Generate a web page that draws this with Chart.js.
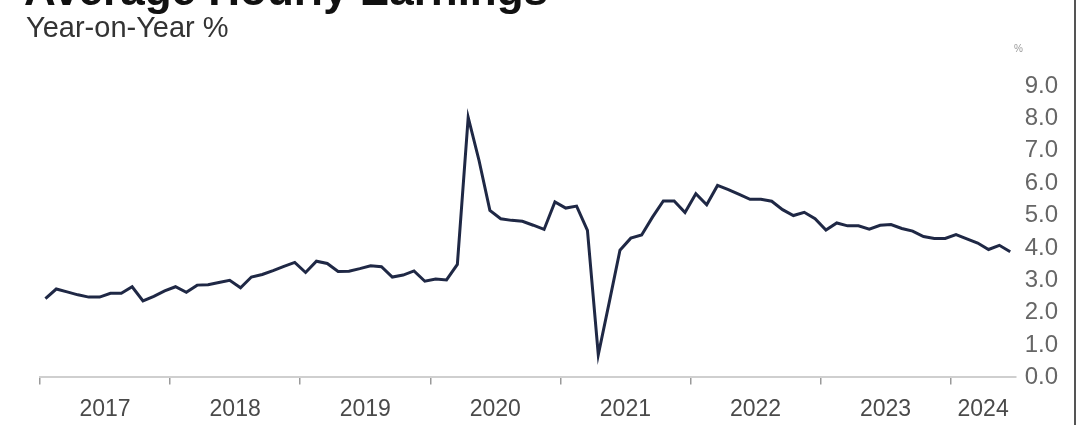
<!DOCTYPE html>
<html>
<head>
<meta charset="utf-8">
<script src="https://cdn.jsdelivr.net/npm/chart.js@4.4.1/dist/chart.umd.min.js"></script>
<style>
  html, body { margin: 0; padding: 0; background: #fff; }
  #wrap { position: relative; width: 1077px; height: 425px; overflow: hidden; font-family: "Liberation Sans", Arial, sans-serif; }
  #plot { position: absolute; left: 0; top: 0; width: 1077px; height: 434px; }
  .title { position: absolute; left: 24px; top: -32px; font-size: 44px; line-height: 44px; font-weight: bold; color: #111; white-space: nowrap; }
  .subtitle { position: absolute; left: 26px; top: 13px; font-size: 29px; line-height: 29px; color: #333; white-space: nowrap; }
  .unit { position: absolute; left: 1014px; top: 44px; font-size: 10px; line-height: 10px; color: #999; }
  .edge { position: absolute; right: 1px; top: 0; bottom: 0; border-right: 2px solid #555; }
</style>
</head>
<body>
<div id="wrap">
  <div id="plot"><canvas id="aheChart"></canvas></div>
  <div class="title">Average Hourly Earnings</div>
  <div class="subtitle">Year-on-Year %</div>
  <div class="unit">%</div>
  <div class="edge"></div>
</div>
<script>
// Jahre auf der x-Achse, Daten monatlich Jan 2017 - Jun 2024
const years = ['2017', '2018', '2019', '2020', '2021', '2022', '2023', '2024'];
const monthsInLastYear = 6;

// Average hourly earnings, YoY %
const aheYoY = [
  2.43, 2.73, 2.64, 2.55, 2.48, 2.48, 2.60, 2.60, 2.80, 2.36, 2.50, 2.67,
  2.80, 2.63, 2.85, 2.86, 2.93, 3.00, 2.77, 3.10, 3.18, 3.30, 3.43, 3.55,
  3.24, 3.59, 3.52, 3.27, 3.28, 3.36, 3.45, 3.42, 3.10, 3.16, 3.29, 2.97,
  3.04, 3.01, 3.49, 8.03, 6.70, 5.16, 4.90, 4.85, 4.82, 4.70, 4.57, 5.42,
  5.23, 5.29, 4.54, 0.70, 2.30, 3.93, 4.30, 4.40, 4.95, 5.45, 5.45, 5.09,
  5.67, 5.33, 5.93, 5.80, 5.65, 5.50, 5.50, 5.44, 5.18, 5.00, 5.10, 4.90,
  4.55, 4.77, 4.68, 4.68, 4.58, 4.70, 4.72, 4.60, 4.52, 4.35, 4.29, 4.29,
  4.41, 4.28, 4.15, 3.95, 4.08, 3.88
];

const yTicks = [0, 1, 2, 3, 4, 5, 6, 7, 8, 9];

// Monatslabels bauen
const months = [];
years.forEach((y, k) => {
  const n = k === years.length - 1 ? monthsInLastYear : 12;
  for (let m = 1; m <= n; m++) months.push(y + '-' + String(m).padStart(2, '0'));
});

// Jahresanfang (Tickstrich) und Jahresmitte (Label) als Index
const yearStart = years.map(y => months.indexOf(y + '-01') - 0.5);
const yearMid = years.map(y => {
  const idx = months.map((m, i) => m.startsWith(y) ? i : -1).filter(i => i >= 0);
  return (idx[0] + idx[idx.length - 1]) / 2;
});

const lo = -0.5, hi = months.length - 0.5;

const ctx = document.getElementById('aheChart').getContext('2d');
const chart = new Chart(ctx, {
  type: 'line',
  data: {
    labels: months,
    datasets: [{
      label: 'Average Hourly Earnings',
      data: aheYoY,
      borderColor: '#1f2845',
      borderWidth: 3,
      pointRadius: 0,
      tension: 0,
      xAxisID: 'x',
      yAxisID: 'y'
    }]
  },
  options: {
    responsive: true,
    maintainAspectRatio: false,
    animation: false,
    layout: { padding: { left: 40, right: 10, top: 86, bottom: 0 } },
    plugins: { legend: { display: false }, tooltip: { enabled: false } },
    scales: {
      x: { type: 'category', offset: true, display: false },
      xTicks: {
        type: 'linear', position: 'bottom', min: lo, max: hi, weight: 0,
        afterBuildTicks: s => { s.ticks = yearStart.map(v => ({ value: v })); },
        grid: { drawOnChartArea: false, drawTicks: true, tickLength: 7, color: '#9a9a9a', lineWidth: 1.5 },
        border: { display: true, color: '#cfcfcf', width: 2 },
        ticks: { display: false }
      },
      xYears: {
        type: 'linear', position: 'bottom', min: lo, max: hi, weight: 1,
        afterBuildTicks: s => { s.ticks = yearMid.map(v => ({ value: v })); },
        grid: { display: false, drawTicks: false },
        border: { display: false },
        ticks: {
          maxRotation: 0, autoSkip: false, padding: 11,
          color: '#4a4a4a',
          font: { family: 'Liberation Sans, Arial, sans-serif', size: 23 },
          callback: (v, i) => years[i]
        }
      },
      y: {
        position: 'right', min: 0, max: 9,
        afterBuildTicks: s => { s.ticks = yTicks.map(v => ({ value: v })); },
        grid: { display: false, drawTicks: false },
        border: { display: false },
        ticks: {
          autoSkip: false,
          padding: 9,
          color: '#666',
          font: { family: 'Liberation Sans, Arial, sans-serif', size: 24 },
          callback: v => v.toFixed(1)
        }
      }
    }
  }
});
</script>
</body>
</html>
